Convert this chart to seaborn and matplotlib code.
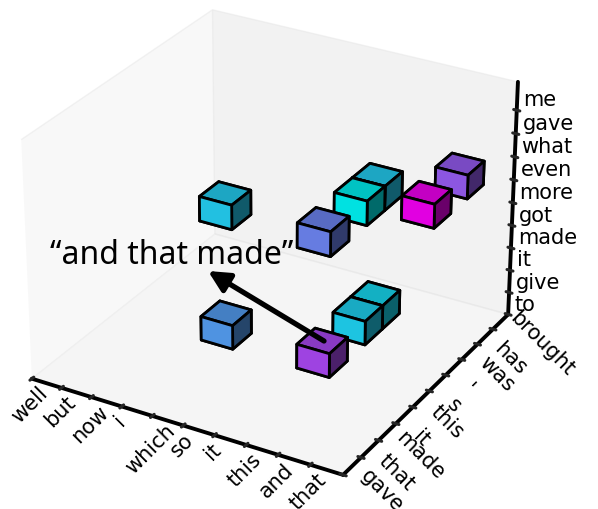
import matplotlib
matplotlib.use("Agg")
import matplotlib.pyplot as plt
import seaborn as sns

sns.set_style("white")

x_words = ["well", "but", "now", "i", "which", "so", "it", "this", "and", "that"]
y_words = ["gave", "that", "made", "it", "this", "s", "'", "was", "has", "brought"]
z_words = ["to", "give", "it", "made", "got", "more", "even", "what", "gave", "me"]

cube_x = ["so", "so", "and", "and", "and", "and", "and", "and", "that", "that"]
cube_y = ["that", "that", "that", "that", "it", "this", "it", "this", "s", "was"]
cube_z = ["made", "gave", "made", "gave", "made", "made", "gave", "gave", "what", "what"]
cube_score = [0.35, 0.15, 0.70, 0.45, 0.13, 0.10, 0.0, 0.15, 1.0, 0.62]

x_ticks = list(range(len(x_words)))
y_ticks = list(range(len(y_words)))
z_ticks = list(range(len(z_words)))

fig = plt.figure(figsize=(5.98, 5.10), dpi=100)
S = 553
ax = fig.add_axes([-9.5 / 598, -5.5 / 510, S / 598, S / 510], projection="3d")
ax.view_init(elev=28, azim=-60)
cmap = sns.color_palette("cool", as_cmap=True)

for xw, yw, zw, s in zip(cube_x, cube_y, cube_z, cube_score):
    ax.bar3d(x_words.index(xw), y_words.index(yw), z_words.index(zw), 1, 1, 1,
             color=cmap(s), edgecolor="black", linewidth=2, shade=True)

ax.set_xlim(0, 10)
ax.set_ylim(0, 10)
ax.set_zlim(0, 10.2)
ax.set_xticks(x_ticks)
ax.set_yticks(y_ticks)
ax.set_zticks(z_ticks)
ax.set_xticklabels(x_words, rotation=45, ha="center", va="top", fontsize=15, color="black")
ax.set_yticklabels(y_words, rotation=-45, ha="left", va="center", fontsize=15, color="black")
ax.set_zticklabels(z_words, ha="left", va="bottom", fontsize=15, color="black")
ax.tick_params(axis="x", pad=-6)
ax.tick_params(axis="y", pad=1)
ax.tick_params(axis="z", pad=-5)
ax.grid(False)
for axis in (ax.xaxis, ax.yaxis, ax.zaxis):
    axis.line.set_linewidth(2.8)
    axis.line.set_color("black")
    axis._axinfo["tick"].update({"inward_factor": 0.12, "outward_factor": 0.12,
                                 "linewidth": {True: 2.2, False: 1}, "color": "black"})
    axis.pane.set_edgecolor((0.9, 0.9, 0.9, 0.4))

fig.text(172 / 598, 1 - 255 / 510, "\u201cand that made\u201d", ha="center", va="center",
         fontsize=23, family="Noto Sans", color="black")
arrow_ax = fig.add_axes([0, 0, 1, 1], facecolor="none")
arrow_ax.set_axis_off()
arrow_ax.annotate("", xy=(208 / 598, 1 - 272 / 510), xytext=(324 / 598, 1 - 342 / 510),
                  xycoords="axes fraction", textcoords="axes fraction",
                  arrowprops=dict(arrowstyle="-|>,head_width=0.35,head_length=0.7",
                                  lw=3.8, color="black", shrinkA=0, shrinkB=0, mutation_scale=18))

fig.savefig("out.png", dpi=100)
